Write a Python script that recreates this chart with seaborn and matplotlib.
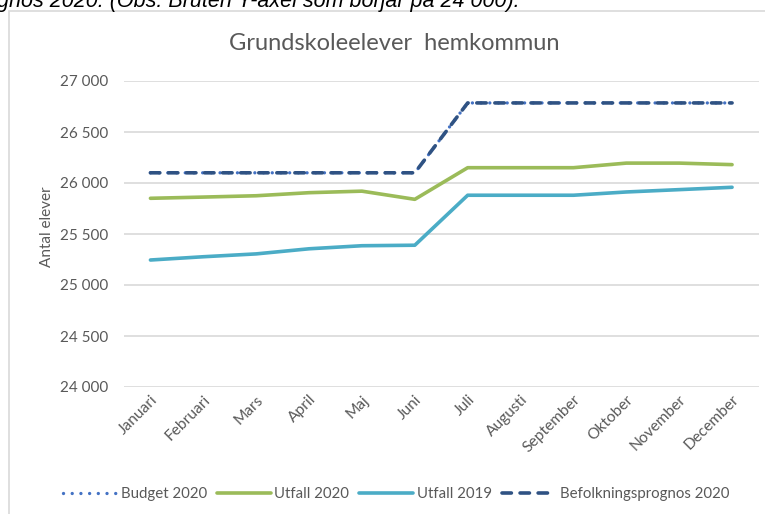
import matplotlib
matplotlib.use("Agg")
import matplotlib.pyplot as plt
import matplotlib.patches as mpatches
import seaborn as sns
import pandas as pd

months = ["Januari", "Februari", "Mars", "April", "Maj", "Juni", "Juli",
          "Augusti", "September", "Oktober", "November", "December"]
budget_2020 = [26100, 26100, 26100, 26100, 26100, 26100,
               26785, 26785, 26785, 26785, 26785, 26785]
utfall_2020 = [25850, 25862, 25875, 25905, 25920, 25840,
               26150, 26150, 26150, 26195, 26195, 26180]
utfall_2019 = [25245, 25277, 25305, 25355, 25385, 25390,
               25880, 25880, 25880, 25912, 25935, 25958]
befolkning_2020 = [26100, 26100, 26100, 26100, 26100, 26100,
                   26785, 26785, 26785, 26785, 26785, 26785]
yticks = [24000, 24500, 25000, 25500, 26000, 26500, 27000]
ytick_labels = ["24 000", "24 500", "25 000", "25 500", "26 000", "26 500", "27 000"]

sns.set_theme(style="white")
plt.rcParams["font.family"] = ["Lato", "DejaVu Sans"]

GRAY = "#595959"
fig = plt.figure(figsize=(7.65, 5.14), dpi=100)
fig.patch.set_facecolor("white")

# chart frame (clipped at right and bottom)
frame = mpatches.Rectangle((9 / 765, -0.1), 1.0, 1 - 11 / 514 + 0.1,
                           transform=fig.transFigure, fill=False,
                           edgecolor="#d9d9d9", lw=1.2, clip_on=False)
fig.patches.append(frame)

# cropped caption at the top
fig.text(-0.004, 1 - 7 / 514, "gnos 2020. (Obs. Bruten Y-axel som börjar på 24 000).",
         fontsize=15.5, style="italic", color="black", ha="left", va="baseline",
         family=["Liberation Sans", "DejaVu Sans"])

ax = fig.add_axes([124 / 765, 1 - 387 / 514, (758.5 - 124) / 765, (387 - 81) / 514])

series = [
    ("Budget 2020", budget_2020, "#4472C4", (0, (0.01, 2.6)), 2.4),
    ("Utfall 2020", utfall_2020, "#9BBB59", "-", 2.6),
    ("Utfall 2019", utfall_2019, "#4BACC6", "-", 2.6),
    ("Befolkningsprognos 2020", befolkning_2020, "#2F5283", (0, (2.6, 2.4)), 2.6),
]
for name, vals, color, ls, lw in series:
    df = pd.DataFrame({"month": months, "value": vals})
    sns.lineplot(data=df, x="month", y="value", ax=ax, color=color, lw=lw,
                 linestyle=ls, sort=False, label=name,
                 dash_capstyle="round", solid_capstyle="round", solid_joinstyle="round")

ax.set_xlim(-0.5, len(months) - 0.5)
ax.set_ylim(24000, 27000)
ax.set_yticks(yticks)
ax.set_yticklabels(ytick_labels)
ax.grid(axis="y", color="#d9d9d9", lw=1.2)
ax.set_axisbelow(True)
for s in ax.spines.values():
    s.set_visible(False)
ax.tick_params(axis="y", length=0, pad=11, labelsize=11, labelcolor=GRAY)
ax.tick_params(axis="x", length=0, pad=4, labelsize=11.2, labelcolor=GRAY)
ax.set_xticks(range(len(months)))
ax.set_xticklabels(months, rotation=45, ha="right", rotation_mode="anchor")
ax.set_xlabel("")
ax.set_ylabel("Antal elever", fontsize=11, color=GRAY)
ax.yaxis.set_label_coords(-(124 - 54) / (758.5 - 124), 0.525)

fig.text(394 / 765, 1 - 44 / 514, "Grundskoleelever  hemkommun", fontsize=17,
         color=GRAY, ha="center", va="center")

handles, labels = ax.get_legend_handles_labels()
ax.get_legend().remove()
fig.legend(handles, labels, loc="center", bbox_to_anchor=(396 / 765, 1 - 494 / 514),
           ncol=4, frameon=False, fontsize=10.8, labelcolor=GRAY,
           handlelength=3.6, handletextpad=0.25, columnspacing=0.65)

fig.savefig("out.png", dpi=100, facecolor="white")
